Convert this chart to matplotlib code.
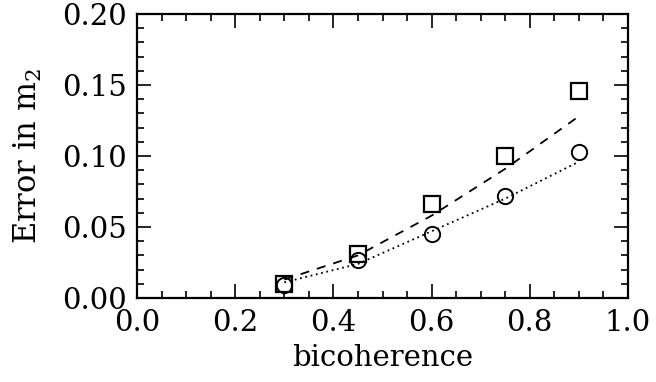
import matplotlib
matplotlib.use("Agg")
import matplotlib.pyplot as plt
from matplotlib.ticker import MultipleLocator, FormatStrFormatter

# Data
bicoherence = [0.30, 0.45, 0.60, 0.75, 0.90]
err_squares = [0.010, 0.031, 0.066, 0.100, 0.146]
err_circles = [0.009, 0.027, 0.045, 0.072, 0.103]
fit_dashed = [0.013, 0.030, 0.058, 0.091, 0.128]
fit_dotted = [0.011, 0.024, 0.047, 0.070, 0.096]

x_ticks = [0.0, 0.2, 0.4, 0.6, 0.8, 1.0]
y_ticks = [0.00, 0.05, 0.10, 0.15, 0.20]

plt.rcParams['font.family'] = ['DejaVu Serif']
plt.rcParams['mathtext.fontset'] = 'dejavuserif'

fig = plt.figure(figsize=(6.56, 3.82), dpi=100)
ax = fig.add_axes([137/656, 1 - 298/382, (628-137)/656, (298-14)/382])

ax.plot(bicoherence, fit_dashed, linestyle=(0, (5, 4.5)), color='black', lw=1.3)
ax.plot(bicoherence, fit_dotted, linestyle=(0, (1, 2)), color='black', lw=1.3)
ax.plot(bicoherence, err_squares, linestyle='none', marker='s', ms=11,
        mfc='none', mec='black', mew=1.6)
ax.plot(bicoherence, err_circles, linestyle='none', marker='o', ms=11,
        mfc='none', mec='black', mew=1.4)

ax.set_xlim(0.0, 1.0)
ax.set_ylim(0.0, 0.20)
ax.set_xticks(x_ticks)
ax.set_yticks(y_ticks)
ax.xaxis.set_major_formatter(FormatStrFormatter('%.1f'))
ax.yaxis.set_major_formatter(FormatStrFormatter('%.2f'))
ax.xaxis.set_minor_locator(MultipleLocator(0.05))
ax.yaxis.set_minor_locator(MultipleLocator(0.01))
ax.tick_params(which='both', direction='in', top=True, right=True,
               labelsize=21, width=1.2)
ax.tick_params(which='major', length=10)
ax.tick_params(which='minor', length=5)
ax.tick_params(axis='y', which='major', pad=7)
ax.tick_params(axis='x', which='major', pad=8)
for s in ax.spines.values():
    s.set_linewidth(1.6)

ax.set_xlabel('bicoherence', fontsize=21, labelpad=5)
ax.set_ylabel(r'Error in m$_2$', fontsize=22, labelpad=13)

fig.savefig('out.png', dpi=100)
